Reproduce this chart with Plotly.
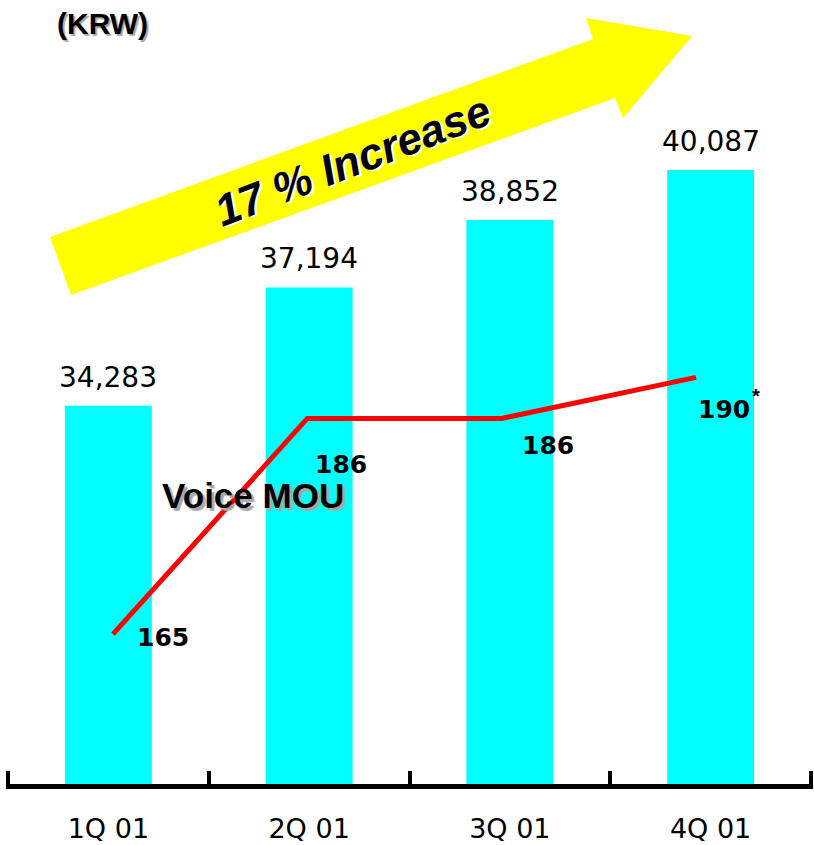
import plotly.graph_objects as go

quarters = ["1Q 01", "2Q 01", "3Q 01", "4Q 01"]
arpu = [34283, 37194, 38852, 40087]
mou = [165, 186, 186, 190]
growth_text = "17 % Increase"
unit_text = "(KRW)"
series_text = "Voice MOU"

W, H = 814, 845
ML, MR, MT, MB = 6, 1, 20, 61
PW, PH = W - ML - MR, H - MT - MB

LABEL_FONT = "DejaVu Sans, Liberation Sans, Arial, sans-serif"
BOLD_FONT = "Liberation Sans, Arial, sans-serif"


def px(x):
    return (x - ML) / PW


def py(y):
    return (H - MB - y) / PH


fig = go.Figure()
fig.add_bar(x=quarters, y=arpu, marker_color="#00FFFF", marker_line_width=0,
            width=0.433, xaxis="x", yaxis="y", hoverinfo="skip")
fig.add_scatter(x=quarters, y=mou, mode="lines",
                line=dict(color="#FF0000", width=5),
                xaxis="x2", yaxis="y2", hoverinfo="skip")

ann = []
# bar value labels
for q, v in zip(quarters, arpu):
    ann.append(dict(x=q, y=v, xref="x", yref="y", text=f"{v:,}", showarrow=False,
                    xanchor="center", yanchor="bottom", yshift=10,
                    font=dict(family=LABEL_FONT, size=28, color="black")))
# MOU labels
mou_offsets = [(50, -3), (34, -46), (46, -27), (28, -32)]
for i, (m, (dx, dy)) in enumerate(zip(mou, mou_offsets)):
    ann.append(dict(x=i, y=m, xref="x2", yref="y2", text=f"<b>{m}</b>", showarrow=False,
                    xanchor="center", yanchor="middle", xshift=dx, yshift=dy,
                    font=dict(family=LABEL_FONT, size=25, color="black")))
ann.append(dict(x=px(756), y=py(396), xref="paper", yref="paper", text="<b>*</b>", showarrow=False,
                xanchor="center", yanchor="middle",
                font=dict(family=BOLD_FONT, size=20, color="black")))

# growth text with white shadow
ann.append(dict(x=px(352), y=py(160), xref="paper", yref="paper",
                text=f"<b><i>{growth_text}</i></b>", showarrow=False, textangle=-21,
                xanchor="center", yanchor="middle",
                font=dict(family="Liberation Sans Narrow, Arial Narrow, Liberation Sans, sans-serif",
                          size=44, color="black", shadow="2px 2px 0px white")))
# Voice MOU with gray shadow
ann.append(dict(x=px(253), y=py(495), xref="paper", yref="paper",
                text=f"<b>{series_text}</b>", showarrow=False,
                xanchor="center", yanchor="middle",
                font=dict(family=BOLD_FONT, size=35, color="black", shadow="3px 3px 1px #A8A8A8")))
# (KRW)
ann.append(dict(x=px(102), y=py(24), xref="paper", yref="paper",
                text=f"<b>{unit_text}</b>", showarrow=False,
                xanchor="center", yanchor="middle",
                font=dict(family=BOLD_FONT, size=30, color="black", shadow="2px 2px 1px #A8A8A8")))

arrow_px = [(50, 237), (593, 39), (586, 18), (692, 36), (623, 118), (615, 98), (71, 295)]
path = "M " + " L ".join(f"{px(x):.4f},{py(y):.4f}" for x, y in arrow_px) + " Z"

fig.update_layout(
    width=W, height=H,
    margin=dict(l=ML, r=MR, t=MT, b=MB, autoexpand=False),
    paper_bgcolor="white", plot_bgcolor="white",
    showlegend=False,
    xaxis=dict(type="category", range=[-0.51, 3.51], showline=True, linecolor="black", linewidth=5,
               ticks="inside", tickson="boundaries", ticklen=13, tickwidth=4, tickcolor="black",
               showgrid=False, zeroline=False, ticklabelstandoff=17, automargin=False,
               tickfont=dict(family=LABEL_FONT, size=27, color="black")),
    yaxis=dict(range=[24969, 43779], visible=False, automargin=False),
    xaxis2=dict(type="category", overlaying="x", range=[-0.5506, 3.602], visible=False),
    yaxis2=dict(overlaying="y", range=[150.4, 224.8], visible=False),
    annotations=ann,
    shapes=[dict(type="path", path=path, xref="paper", yref="paper",
                 fillcolor="#FFFF00", line=dict(width=0), layer="below")],
)

fig.write_html("out.html", config={"displayModeBar": False},
               post_script="document.body.style.margin='0';document.body.style.overflow='hidden';")
